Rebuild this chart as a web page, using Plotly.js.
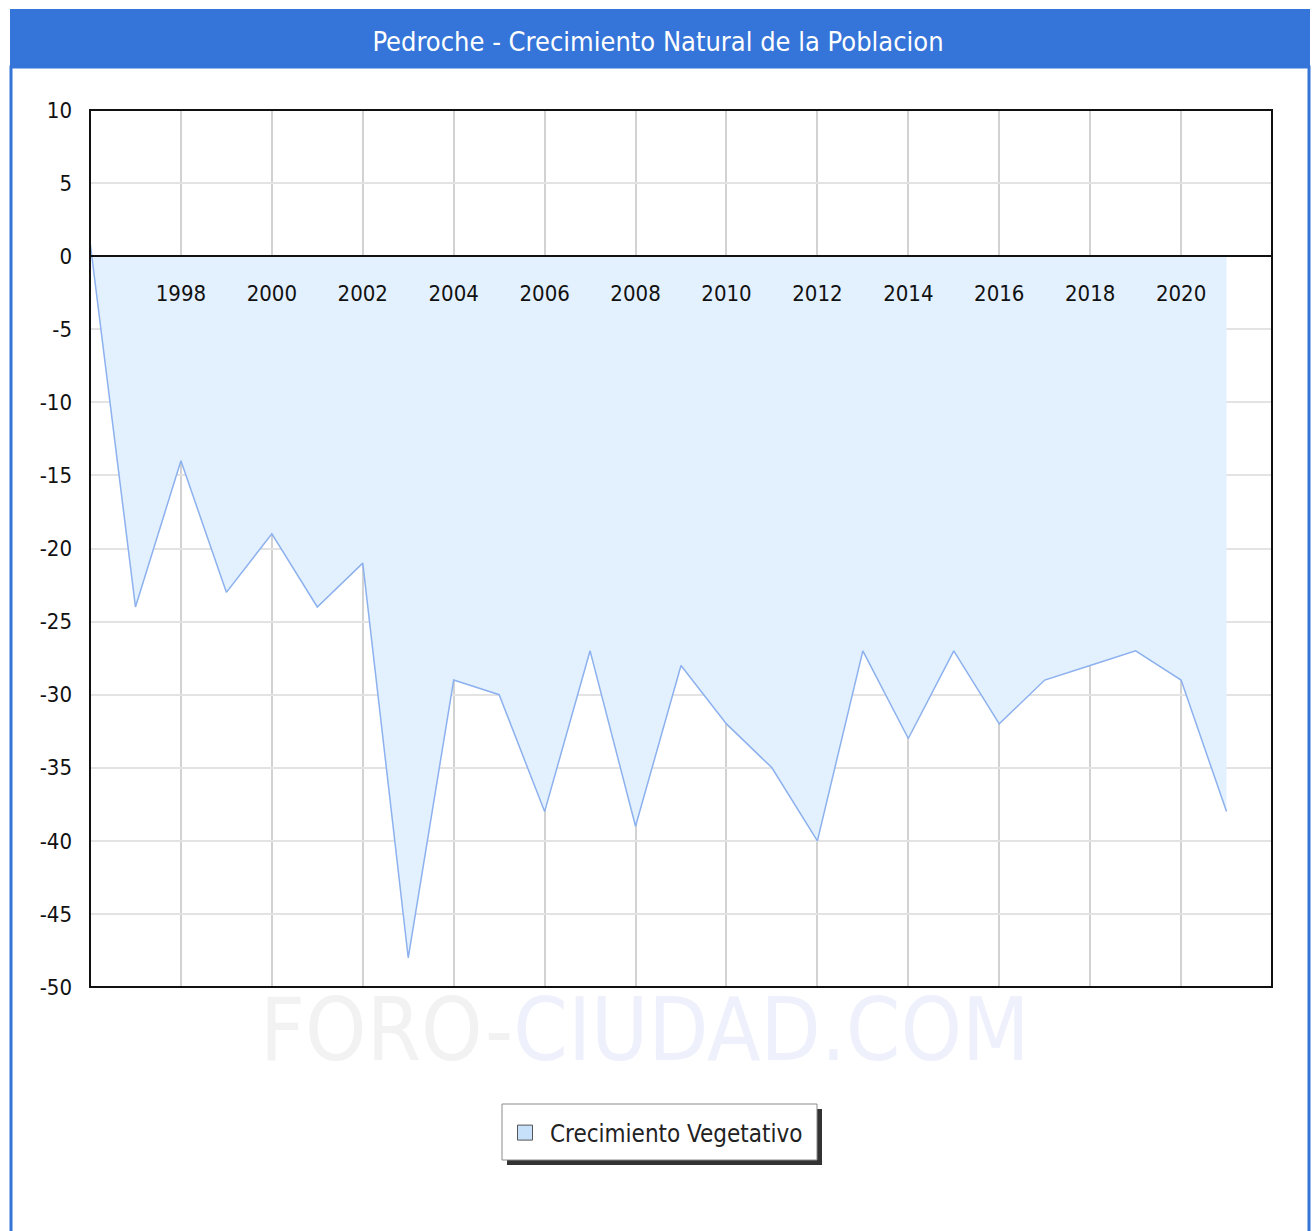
<!DOCTYPE html>
<html>
<head>
<meta charset="utf-8">
<script src="https://cdn.plot.ly/plotly-3.0.1.min.js"></script>
<style>
  html, body { margin: 0; padding: 0; background: #ffffff; }
  #chart { width: 1316px; height: 1231px; }
</style>
</head>
<body>
<div id="chart"></div>
<script>
const years = [1996, 1997, 1998, 1999, 2000, 2001, 2002, 2003, 2004, 2005, 2006, 2007, 2008,
               2009, 2010, 2011, 2012, 2013, 2014, 2015, 2016, 2017, 2018, 2019, 2020, 2021];
const crecimiento = [1, -24, -14, -23, -19, -24, -21, -48, -29, -30, -38, -27, -39,
                     -28, -32, -35, -40, -27, -33, -27, -32, -29, -28, -27, -29, -38];
const tickYears = [1998, 2000, 2002, 2004, 2006, 2008, 2010, 2012, 2014, 2016, 2018, 2020];
const yTicks = [10, 5, 0, -5, -10, -15, -20, -25, -30, -35, -40, -45, -50];
const seriesName = 'Crecimiento Vegetativo';
const chartTitle = 'Pedroche - Crecimiento Natural de la Poblacion';

const FONT = '"DejaVu Sans Condensed", "DejaVu Sans", sans-serif';
const BLUE = '#3574d8';

const traces = [
  {
    x: years, y: crecimiento, type: 'scatter', mode: 'lines',
    fill: 'tozeroy', fillcolor: 'rgb(227,240,253)',
    line: { color: 'rgb(140,177,238)', width: 1.5 },
    showlegend: false, hoverinfo: 'x+y'
  },
  {
    x: [null], y: [null], type: 'scatter', mode: 'markers', name: seriesName,
    marker: { symbol: 'square', size: 15, color: 'rgb(200,225,250)', line: { color: '#555', width: 1 } },
    showlegend: true
  }
];

const layout = {
  width: 1316, height: 1231,
  margin: { l: 90, r: 44, t: 110, b: 244 },
  paper_bgcolor: '#ffffff', plot_bgcolor: '#ffffff',
  font: { family: FONT, color: '#111', size: 22 },
  title: {
    text: chartTitle, x: 0.5, xanchor: 'center', xref: 'container',
    y: 1 - 42 / 1231, yanchor: 'middle', yref: 'container',
    font: { family: FONT, size: 27, color: '#ffffff' }
  },
  xaxis: {
    range: [1996, 2022], anchor: 'free', position: 50 / 60,
    tickmode: 'array', tickvals: tickYears, ticktext: tickYears.map(String),
    showgrid: true, gridcolor: '#d2d2d2', gridwidth: 1.5,
    showline: false, zeroline: false, ticks: '', ticklabelstandoff: 22,
    tickfont: { family: FONT, size: 22, color: '#111' }
  },
  yaxis: {
    range: [-50, 10],
    tickmode: 'array', tickvals: yTicks, ticktext: yTicks.map(String),
    showgrid: true, gridcolor: '#e3e3e3', gridwidth: 2,
    zeroline: true, zerolinecolor: '#111', zerolinewidth: 2, zerolinelayer: 'above traces',
    showline: false, ticks: '', ticklabelstandoff: 17,
    tickfont: { family: FONT, size: 22, color: '#111' }
  },
  legend: {
    x: (500 - 90) / 1182, y: (987 - 1133) / 877, xanchor: 'left', yanchor: 'middle',
    bgcolor: 'rgba(0,0,0,0)', borderwidth: 0,
    font: { family: FONT, size: 24, color: '#222' }, itemwidth: 40
  },
  shapes: [
    // title bar
    { type: 'rect', xref: 'paper', yref: 'paper',
      x0: (10 - 90) / 1182, x1: (1310 - 90) / 1182,
      y0: 1 + (110 - 68) / 877, y1: 1 + (110 - 9) / 877,
      fillcolor: BLUE, line: { width: 0 }, layer: 'below' },
    // outer side borders
    { type: 'rect', xref: 'paper', yref: 'paper',
      x0: (11 - 90) / 1182, x1: (1309 - 90) / 1182,
      y0: -0.4, y1: 1 + (110 - 67) / 877,
      fillcolor: 'rgba(0,0,0,0)', line: { color: BLUE, width: 3 }, layer: 'below' },
    // plot frame
    { type: 'rect', xref: 'paper', yref: 'paper', x0: 0, x1: 1, y0: 0, y1: 1,
      line: { color: '#111', width: 2 }, layer: 'above' },
    // legend shadow
    { type: 'rect', xref: 'paper', yref: 'paper',
      x0: (507 - 90) / 1182, x1: (822 - 90) / 1182,
      y0: (987 - 1165) / 877, y1: (987 - 1109) / 877,
      fillcolor: '#333', line: { width: 0 }, layer: 'above' },
    // legend box
    { type: 'rect', xref: 'paper', yref: 'paper',
      x0: (502 - 90) / 1182, x1: (817 - 90) / 1182,
      y0: (987 - 1160) / 877, y1: (987 - 1104) / 877,
      fillcolor: '#ffffff', line: { color: '#8a8a8a', width: 1 }, layer: 'above' }
  ],
  annotations: [
    { xref: 'paper', yref: 'paper', x: (645 - 90) / 1182, y: (987 - 1030) / 877,
      xanchor: 'center', yanchor: 'middle', showarrow: false,
      text: '<span style="color:#f2f2f2">FORO-</span><span style="color:#eef0fc">CIUDAD.COM</span>',
      font: { family: FONT, size: 87, color: '#f2f2f2' } }
  ]
};

Plotly.newPlot('chart', traces, layout, { displayModeBar: false });
</script>
</body>
</html>
